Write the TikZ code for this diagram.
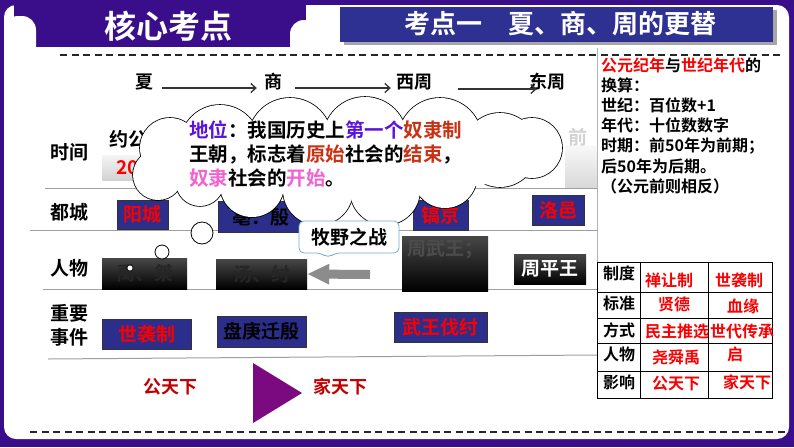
\documentclass[tikz,border=0pt]{standalone}
\usepackage{fontspec}
\setmainfont{Noto Sans CJK SC}[BoldFont={Noto Sans CJK SC Bold}]
\usetikzlibrary{arrows.meta}
\definecolor{frame}{RGB}{58,14,138}
\definecolor{hdrblue}{RGB}{46,49,146}
\definecolor{boxblue}{RGB}{44,46,140}
\definecolor{txtred}{RGB}{250,0,0}
\definecolor{darkred}{RGB}{192,0,0}
\definecolor{violetc}{RGB}{90,20,220}
\definecolor{brick}{RGB}{200,50,20}
\definecolor{pinkc}{RGB}{240,100,210}
\definecolor{tri}{RGB}{123,10,128}
\definecolor{callblue}{RGB}{120,170,210}
\newcommand\myfs[1]{\fontsize{#1}{#1}\selectfont}
\begin{document}
\begin{tikzpicture}[x=1pt,y=-1pt,
  lbl/.style={font=\bfseries\myfs{19}, inner sep=0pt},
  rp/.style={font=\bfseries\myfs{16}, inner sep=0pt, anchor=west},
  cell/.style={font=\bfseries\myfs{16}, inner sep=0pt},
  redcell/.style={cell, text=txtred},
  bluebox/.style={fill=boxblue, draw=black!80, line width=0.6pt, inner sep=0pt, font=\bfseries\myfs{19}},
  blackbox/.style={top color=black!72, bottom color=black, draw=none, inner sep=0pt, font=\bfseries\myfs{19}},
  rowline/.style={draw=gray!75, line width=1pt},
  tl/.style={-{Straight Barb[length=5pt,width=9pt]}, line width=1.3pt, black!80},
  dashline/.style={black!85, line width=1.3pt, dash pattern=on 7pt off 4.5pt}
]
\useasboundingbox (0,0) rectangle (794,447);
% frame
\fill[frame] (0,0) rectangle (794,447);
\fill[white,rounded corners=12pt] (4,5) rectangle (789,439);
\fill[frame] (14,4) rectangle (306,47);
\fill[white,rounded corners=14pt] (4,16) rectangle (36,70);
\fill[white,rounded corners=14pt] (290,20) rectangle (325,70);
\node[text=white, font=\bfseries\myfs{32}, inner sep=0pt] (tab) at (168,26) {核心考点};
% right header
\fill[black!35] (344,10) rectangle (777,45);
\fill[hdrblue] (340,7) rectangle (773,42);
\node[text=white, font=\bfseries\myfs{26}, inner sep=0pt] (hdr) at (560,24) {考点一　夏、商、周的更替};
% dashed lines
\draw[dashline] (60,55) -- (780,55);
\draw[dashline] (30,432) -- (786,432);
% timeline
\node[font=\bfseries\myfs{18}, inner sep=0pt] (xia) at (144,82) {夏};
\node[font=\bfseries\myfs{18}, inner sep=0pt] (shang) at (273,82) {商};
\node[font=\bfseries\myfs{18}, inner sep=0pt] (xizhou) at (414,82) {西周};
\node[font=\bfseries\myfs{18}, inner sep=0pt] (dongzhou) at (547,82) {东周};
\draw[tl] ([shift={(9,6)}]xia.east) -- ([shift={(-7,6)}]shang.west);
\draw[tl] ([shift={(13,6)}]shang.east) -- ([shift={(-5,6)}]xizhou.west);
\draw[tl] ([shift={(26,7)}]xizhou.east) -- ([shift={(8,7)}]dongzhou.west);
% row labels
\node[lbl] (tlabel) at (69,152) {时间};
\node[lbl] (clabel) at (69,212) {都城};
\node[lbl] (plabel) at (69,268) {人物};
\node[lbl, align=center, font=\bfseries\fontsize{19}{24}\selectfont] (elabel) at (69,325) {重要\\事件};
% row lines
\draw[rowline] (45,188) -- (597,188);
\draw[rowline] (30,230) -- (597,230);
\draw[rowline] (43,289) -- (597,289);
\draw[rowline] (48,359) -- (597,355);
\draw[gray!60, line width=0.8pt] (597,48) -- (597,262);
% time row
\shade[top color=gray!8, bottom color=gray!35] (102,155) rectangle (165,180);
\node[lbl, anchor=west] (t1a) at (109,139) {约公元前};
\node[lbl, anchor=west, text=txtred] (t1b) at (116,167) {2070年};
\shade[top color=gray!5, bottom color=gray!30] (565,145) rectangle (597,187);
\node[lbl, text=gray!35] (t4a) at (578,137) {前};
% capitals
\node[bluebox, text=txtred, minimum width=51pt, minimum height=29pt] (yc) at (142.5,214.5) {阳城};
\node[bluebox, text=black, minimum width=85pt, minimum height=31pt] (bo) at (260.5,217) {亳：殷};
\node[bluebox, text=txtred, minimum width=55pt, minimum height=30pt] (hj) at (440.5,215) {镐京};
\node[bluebox, text=txtred, minimum width=52pt, minimum height=30pt] (ly) at (558,210) {洛邑};
% people
\node[blackbox, text=black!85, minimum width=85pt, minimum height=31pt] (p1) at (144.5,273.5) {禹、桀};
\node[blackbox, text=black!85, minimum width=91pt, minimum height=30pt] (p2) at (261.5,274) {汤、纣};
\node[blackbox, minimum width=86pt, minimum height=55pt] (zw) at (445,263.5) {};
\node[lbl, text=black!70] (zwt) at (445,249) {周武王；};
\node[blackbox, text=white, minimum width=72pt, minimum height=30pt] (zp) at (550,269) {周平王};
\coordinate (arrstart) at (370,274.5);
\draw[-{Triangle[length=22pt,width=19pt]}, line width=9pt, gray!90] (arrstart) -- (p2.east);
% events
\node[bluebox, text=txtred, minimum width=89pt, minimum height=30pt] (e1) at (146.5,334) {世袭制};
\node[bluebox, text=black, minimum width=89pt, minimum height=31pt] (e2) at (261.5,331.5) {盘庚迁殷};
\node[bluebox, text=txtred, minimum width=93pt, minimum height=30pt] (e3) at (440.5,327) {武王伐纣};
% cloud (union of puffs)
\coordinate (cloud) at (347,161);
\def\puffs{220/145/40, 290/140/42, 365/139/42, 440/140/42, 500/150/37, 532/148/30, 445/176/32, 385/190/35, 318/190/35, 252/185/32, 200/182/24, 158/175/25, 170/148/30}
\foreach \cx/\cy/\cr in \puffs \draw[line width=1.6pt] (\cx,\cy) circle[radius=\cr pt];
\foreach \cx/\cy/\cr in \puffs \fill[white] (\cx,\cy) circle[radius=\cr pt];
\fill[white] (cloud) ellipse[x radius=185pt, y radius=35pt];
\draw[fill=white, line width=0.8pt] (202,233) circle[radius=11pt];
\draw[fill=white, line width=0.8pt] (162,252) circle[radius=7pt];
\draw[fill=white, line width=0.6pt] (130,268) circle[radius=3pt];
\node[font=\bfseries\myfs{19.5}, inner sep=0pt, anchor=west] (c1) at (189,130) {{\color{violetc}地位}：我国历史上{\color{violetc}第一个}{\color{brick}奴隶制}};
\node[font=\bfseries\myfs{19.5}, inner sep=0pt, anchor=west] (c2) at (189,154) {王朝，标志着{\color{brick}原始}社会的{\color{brick}结束}，};
\node[font=\bfseries\myfs{19.5}, inner sep=0pt, anchor=west] (c3) at (189,178) {{\color{pinkc}奴隶}社会的{\color{pinkc}开始}。};
% callout
\draw[draw=callblue, fill=white, line width=0.8pt, rounded corners=5pt] (299,221) -- (399,221) -- (399,253) -- (335,253) -- (328,258) -- (321,253) -- (299,253) -- cycle;
\node[lbl] (muye) at (349,237) {牧野之战};
% right panel
\node[rp] (r1) at (601,65) {{\color{txtred}公元纪年}与{\color{txtred}世纪年代}的};
\node[rp] (r2) at (601,85) {换算：};
\node[rp] (r3) at (601,105) {世纪：百位数+1};
\node[rp] (r4) at (601,125) {年代：十位数数字};
\node[rp] (r5) at (601,146) {时期：前50年为前期；};
\node[rp] (r6) at (601,166) {后50年为后期。};
\node[rp] (r7) at (601,186) {（公元前则相反）};
% table
\fill[white] (597,262) rectangle (772,398);
\draw[black, line width=1pt] (597,262) rectangle (772,398);
\foreach \yy in {292,318,343,371} \draw[black, line width=1pt] (597,\yy) -- (772,\yy);
\draw[black, line width=1pt] (640,262) -- (640,398);
\draw[black, line width=1pt] (708,262) -- (708,398);
\node[cell] (h1) at (619,273) {制度};
\node[cell] (h2) at (619,303) {标准};
\node[cell] (h3) at (619,330) {方式};
\node[cell] (h4) at (619,354) {人物};
\node[cell] (h5) at (619,382) {影响};
\node[redcell] (a1) at (669,280) {禅让制};
\node[redcell] (b1) at (739,280) {世袭制};
\node[redcell] (a2) at (674,304) {贤德};
\node[redcell] (b2) at (743,306) {血缘};
\node[redcell] (a3) at (677,331) {民主推选};
\node[redcell] (b3) at (742,331) {世代传承};
\node[redcell] (a4) at (676,357) {尧舜禹};
\node[redcell] (b4) at (735,354) {启};
\node[redcell] (a5) at (676,384) {公天下};
\node[redcell] (b5) at (747,382) {家天下};
% bottom
\node[font=\bfseries\myfs{18}, text=darkred, inner sep=0pt] (gtx) at (170,387) {公天下};
\fill[tri] (253,363) -- (253,423) -- (302,393) -- cycle;
\node[font=\bfseries\myfs{18}, text=darkred, inner sep=0pt] (jtx) at (340,387) {家天下};
\end{tikzpicture}
\end{document}
